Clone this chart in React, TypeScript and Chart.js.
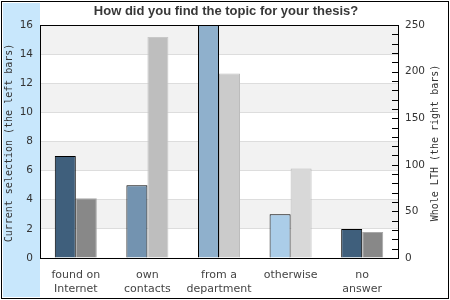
import React, { useEffect, useRef } from "react";
import { Chart, registerables } from "chart.js";

Chart.register(...registerables);

const categories: string[][] = [
  ["found on", "Internet"],
  ["own", "contacts"],
  ["from a", "department"],
  ["otherwise"],
  ["no", "answer"],
];
const currentValues = [7, 5, 16, 3, 2];
const wholeValues = [64, 237, 198, 96, 28];
const leftTicksMax = 16;
const rightTicksMax = 250;
const titleText = "How did you find the topic for your thesis?";
const leftTitle = "Current selection (the left bars)";
const rightTitle = "Whole LTH (the right bars)";

const leftColors = ["#3f5f7c", "#7393b0", "#8fb0cc", "#abcde8", "#3f5f7c"];
const rightColors = ["#888888", "#bebebe", "#cbcbcb", "#d8d8d8", "#888888"];
const rightBorders = ["#a8a8a8", "#c8c8c8", "#bcbcbc", "#bcbcbc", "#a8a8a8"];

const decorPlugin = {
  id: "decor",
  beforeDraw(chart: any) {
    const ctx = chart.ctx;
    const ca = chart.chartArea;
    const y = chart.scales.y;
    ctx.save();
    ctx.fillStyle = "#ffffff";
    ctx.fillRect(0, 0, chart.width, chart.height);
    ctx.fillStyle = "#c8e7fc";
    ctx.fillRect(3, 3, 37, 294);
    ctx.fillStyle = "#f2f2f2";
    for (let v = 2; v < leftTicksMax; v += 4) {
      const t = y.getPixelForValue(v + 2);
      const b = y.getPixelForValue(v);
      ctx.fillRect(ca.left, t, ca.right - ca.left, b - t);
    }
    ctx.restore();
  },
  afterDraw(chart: any) {
    const ctx = chart.ctx;
    const ca = chart.chartArea;
    const y1 = chart.scales.y1;
    ctx.save();
    ctx.strokeStyle = "#000";
    ctx.lineWidth = 1;
    ctx.strokeRect(Math.round(ca.left) + 0.5, Math.round(ca.top) + 0.5, Math.round(ca.right - ca.left), Math.round(ca.bottom - ca.top));
    for (let v = 0; v <= rightTicksMax; v += 10) {
      const py = Math.round(y1.getPixelForValue(v)) + 0.5;
      ctx.beginPath();
      ctx.moveTo(ca.right - 6, py);
      ctx.lineTo(ca.right, py);
      ctx.stroke();
    }
    ctx.strokeRect(1.5, 1.5, 447, 297);
    ctx.fillStyle = "#383838";
    ctx.font = "bold 13px 'Liberation Sans', Arial, sans-serif";
    ctx.textAlign = "center";
    ctx.textBaseline = "middle";
    ctx.fillText(titleText, 226, 11);
    ctx.fillStyle = "#333";
    ctx.font = "10px 'DejaVu Sans Mono', monospace";
    ctx.translate(9, 143);
    ctx.rotate(-Math.PI / 2);
    ctx.fillText(leftTitle, 0, 0);
    ctx.restore();
    ctx.save();
    ctx.fillStyle = "#333";
    ctx.font = "10px 'DejaVu Sans Mono', monospace";
    ctx.textAlign = "center";
    ctx.textBaseline = "middle";
    ctx.translate(435, 143);
    ctx.rotate(-Math.PI / 2);
    ctx.fillText(rightTitle, 0, 0);
    ctx.restore();
  },
};

export default function App() {
  const ref = useRef<HTMLCanvasElement>(null);
  useEffect(() => {
    document.body.style.margin = "0";
    const chart = new Chart(ref.current!, {
      type: "bar",
      data: {
        labels: categories,
        datasets: [
          {
            data: currentValues,
            yAxisID: "y",
            backgroundColor: leftColors,
            borderColor: "#000",
            borderWidth: 1,
          },
          {
            data: wholeValues,
            yAxisID: "y1",
            backgroundColor: rightColors,
            borderColor: rightBorders,
            borderWidth: 1,
          },
        ],
      },
      options: {
        animation: false,
        responsive: false,
        layout: { padding: { top: 25, left: 0, right: 0, bottom: 0 } },
        plugins: {
          legend: { display: false },
          title: { display: false },
          tooltip: { enabled: false },
        },
        datasets: {
          bar: { categoryPercentage: 0.587, barPercentage: 1 },
        },
        scales: {
          x: {
            grid: { display: false, drawTicks: false },
            border: { color: "#000" },
            ticks: {
              color: "#444",
              font: { family: "'DejaVu Sans', sans-serif", size: 11 },
              padding: 11,
              maxRotation: 0,
              autoSkip: false,
            },
            afterFit(s: any) {
              s.height = 42;
            },
          },
          y: {
            position: "left",
            min: 0,
            max: leftTicksMax,
            ticks: {
              stepSize: 2,
              color: "#333",
              font: { family: "'DejaVu Sans', sans-serif", size: 10.5 },
              padding: 7,
            },
            grid: { color: "#dddddd", drawTicks: false },
            border: { color: "#000" },
            afterFit(s: any) {
              s.width = 40;
            },
          },
          y1: {
            position: "right",
            min: 0,
            max: rightTicksMax,
            ticks: {
              stepSize: 50,
              color: "#333",
              font: { family: "'DejaVu Sans', sans-serif", size: 10.5 },
              padding: 7,
            },
            grid: { drawOnChartArea: false, drawTicks: false },
            border: { color: "#000" },
            afterFit(s: any) {
              s.width = 52;
            },
          },
        },
      },
      plugins: [decorPlugin],
    });
    return () => chart.destroy();
  }, []);
  return <canvas ref={ref} width={450} height={300} style={{ display: "block" }} />;
}
